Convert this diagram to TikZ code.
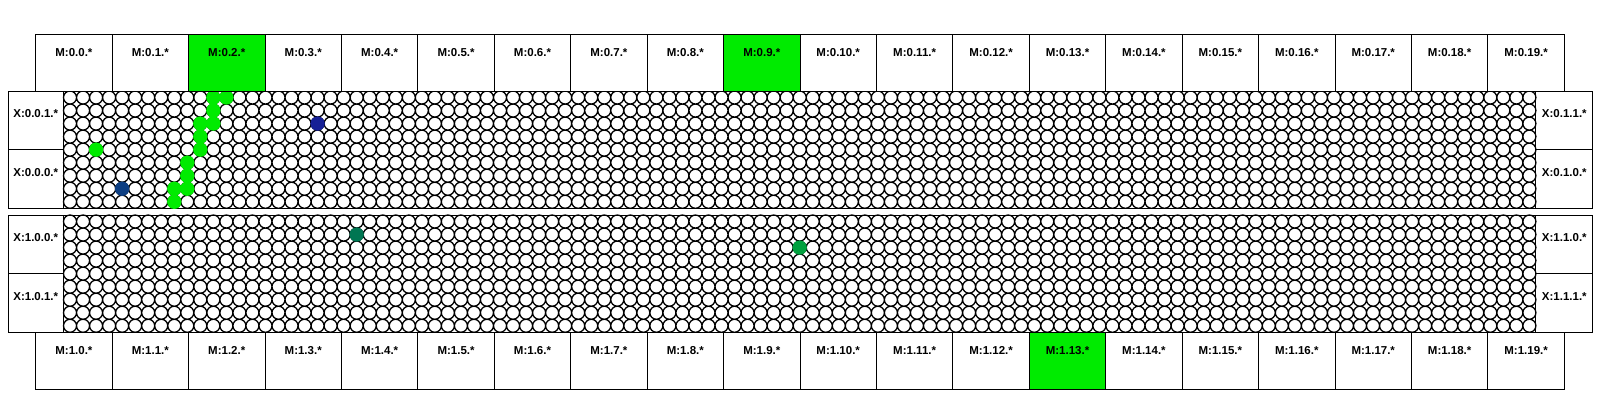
\documentclass[tikz,border=0pt]{standalone}
\usepackage{fontspec}
\setmainfont{Liberation Sans}
\usetikzlibrary{positioning}
\definecolor{hot}{RGB}{0,235,0}
\definecolor{navyA}{RGB}{12,62,130}
\definecolor{navyB}{RGB}{22,32,150}
\definecolor{tealA}{RGB}{0,118,82}
\definecolor{tealB}{RGB}{0,160,62}

\begin{document}
\begin{tikzpicture}[x=1pt,y=-1pt,
  font={\fontsize{11.5}{12}\selectfont\bfseries},
  cell/.style={draw,line width=1.3pt},
  frame/.style={draw,line width=0.9pt},
  mbox/.style={frame,fill=white,anchor=north west,inner sep=0pt,outer sep=0pt,
    minimum width=76.43pt,minimum height=57pt,text height=22.5pt,text depth=34.5pt},
  xbox/.style={frame,anchor=north west,inner sep=0pt,outer sep=0pt,
    minimum height=58.65pt,text height=26.6pt,text depth=32.05pt},
  hl0-2/.style={fill=hot},hl0-9/.style={fill=hot},hl1-13/.style={fill=hot}]
  \useasboundingbox (0,0) rectangle (1600,400);

  % circle grids of the two panels
  \foreach \p/\top in {0/91,1/215} {
    \draw[cell] \foreach \i in {0,...,112} { \foreach \j in {0,...,8}
      { ({63.5+(\i+0.5)*13.03},{\top+(\j+0.5)*13.03}) circle (6.515pt) } };
    \draw[frame] (63.5,\top) rectangle (1535.9,{\top+117.3});
  }

  % lit cells
  \foreach \i/\j in {11/0,12/0,11/1,10/2,11/2,10/3,10/4,2/4,9/5,9/6,8/7,9/7,8/8}
    \fill[hot] ({63.5+(\i+0.5)*13.03},{91+(\j+0.5)*13.03}) circle (7.2pt);
  \fill[navyA] ({63.5+4.5*13.03},{91+7.5*13.03}) circle (7.2pt);
  \fill[navyB] ({63.5+19.5*13.03},{91+2.5*13.03}) circle (7.2pt);
  \fill[tealA] ({63.5+22.5*13.03},{215+1.5*13.03}) circle (7.2pt);
  \fill[tealB] ({63.5+56.5*13.03},{215+2.5*13.03}) circle (7.2pt);

  % M boxes
  \foreach \i in {0,...,19} {
    \node[mbox,hl0-\i/.try] (M0-\i) at ({35.7+\i*76.43},34.3) {M:0.\i.*};
    \node[mbox,hl1-\i/.try] (M1-\i) at ({35.7+\i*76.43},332.3) {M:1.\i.*};
  }

  % X boxes
  \node[xbox,minimum width=55.5pt] (X0-0-1) at (8,91) {X:0.0.1.*};
  \node[xbox,minimum width=55.5pt,below=0pt of X0-0-1] (X0-0-0) {X:0.0.0.*};
  \node[xbox,minimum width=56.8pt] (X0-1-1) at (1535.9,91) {X:0.1.1.*};
  \node[xbox,minimum width=56.8pt,below=0pt of X0-1-1] (X0-1-0) {X:0.1.0.*};
  \node[xbox,minimum width=55.5pt] (X1-0-0) at (8,215) {X:1.0.0.*};
  \node[xbox,minimum width=55.5pt,below=0pt of X1-0-0] (X1-0-1) {X:1.0.1.*};
  \node[xbox,minimum width=56.8pt] (X1-1-0) at (1535.9,215) {X:1.1.0.*};
  \node[xbox,minimum width=56.8pt,below=0pt of X1-1-0] (X1-1-1) {X:1.1.1.*};
\end{tikzpicture}
\end{document}
